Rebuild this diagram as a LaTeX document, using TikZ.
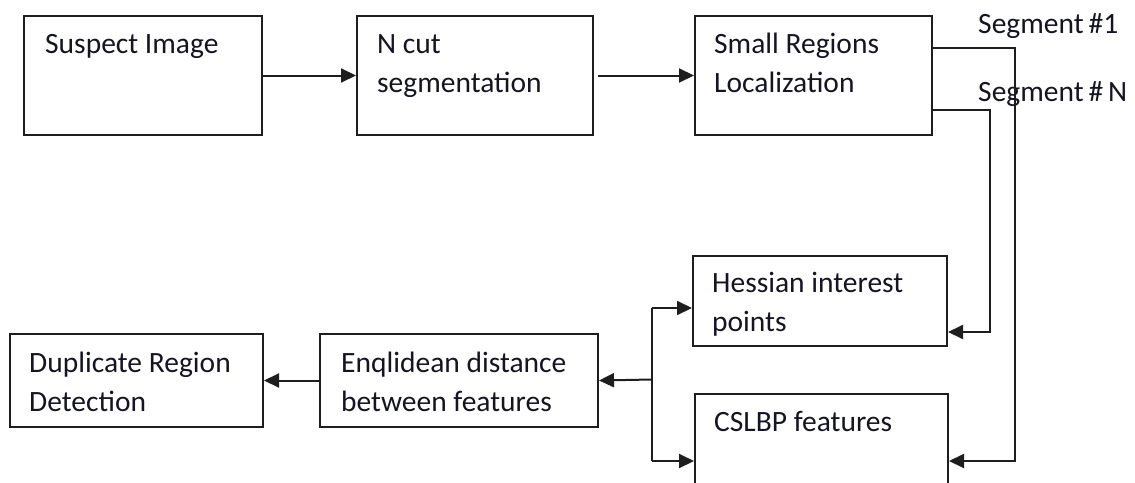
\documentclass[tikz,border=0pt]{standalone}
\usepackage{fontspec}
\setmainfont{Carlito}
\usetikzlibrary{arrows.meta}
\definecolor{linec}{RGB}{30,30,30}
\definecolor{textc}{RGB}{20,20,35}
\begin{document}
\begin{tikzpicture}[x=1pt,y=-1pt,
  box/.style={draw=linec, line width=2pt, anchor=north west, inner sep=0pt},
  txt/.style={anchor=base west, inner sep=0pt, font=\fontsize{29.5}{39}\selectfont, text=textc, align=left},
  conn/.style={draw=linec, line width=2pt},
  arr/.style={conn, -{Triangle[length=15pt,width=14pt]}}]
\useasboundingbox (0,0) rectangle (1135,482);
\clip (0,0) rectangle (1135,482);

% process boxes
\node[box, minimum width=238, minimum height=119] (suspect) at (23,15) {};
\node[box, minimum width=236, minimum height=119] (ncut)    at (356,15) {};
\node[box, minimum width=237, minimum height=119] (small)   at (694,15) {};
\node[box, minimum width=254, minimum height=90]  (hess)    at (692,255) {};
\node[box, minimum width=253, minimum height=130] (cslbp)   at (694,393) {};
\node[box, minimum width=278, minimum height=93]  (enq)     at (319,333) {};
\node[box, minimum width=253, minimum height=93]  (dup)     at (9,333) {};

% box texts (anchored at the baseline of the last line)
\node[txt] (tsuspect) at (45,53)  {Suspect Image};
\node[txt] (tncut)    at (377,92) {N cut\\segmentation};
\node[txt] (tsmall)   at (714,92) {Small Regions\\Localization};
\node[txt] (thess)    at (712,331) {Hessian interest\\points};
\node[txt] (tcslbp)   at (714,431) {CSLBP features};
\node[txt] (tenq)     at (341,411) {Enqlidean distance\\between features};
\node[txt] (tdup)     at (29,411) {Duplicate Region\\Detection};

% segment labels
\node[txt] (seg1) at (978,33)  {Segment\,\#1};
\node[txt] (segn) at (978,101) {Segment\,\#\,N};

% top row
\draw[arr] (suspect.east) -- (ncut.west);
\draw[arr, shorten <=4pt] (ncut.east) -- (small.west);

% segment routes
\coordinate (j1)  at (1015,48);
\coordinate (j1b) at (1015,461);
\coordinate (j2)  at (990,110);
\coordinate (j2b) at (990,332);
\draw[arr] (small.east |- j1) -- (j1) -- (j1b) -- (cslbp.east |- j1b);
\draw[arr] (small.east |- j2) -- (j2) -- (j2b) -- (hess.east |- j2b);

% feature branch
\coordinate (bt) at (652,308);
\coordinate (bm) at (652,379.5);
\coordinate (bb) at (652,461);
\draw[conn] (bt) -- (bb);
\draw[arr] (bt) -- (hess.west |- bt);
\draw[arr] (bb) -- (cslbp.west |- bb);
\draw[arr] (bm) -- (enq.east);
\draw[arr] (enq.west) -- (dup.east);
\end{tikzpicture}
\end{document}
